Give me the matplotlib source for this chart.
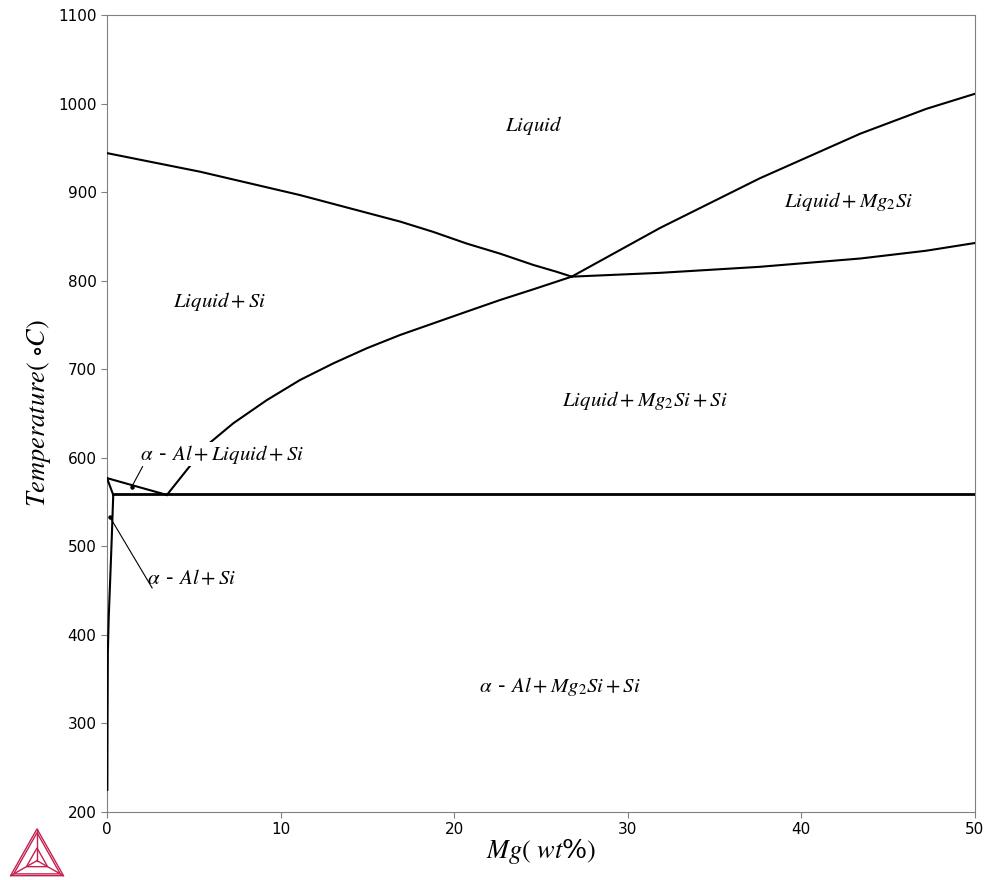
import numpy as np
import matplotlib.pyplot as plt
from matplotlib.patches import Polygon

plt.rcParams['mathtext.fontset'] = 'stix'

# phase boundaries (Mg wt%, T degC)
si_liq_x = [0, 5.36, 11.1, 16.9, 18.8, 20.7, 22.64, 24.56, 25.9, 26.77]
si_liq_t = [944, 923, 896.7, 866.6, 855, 842, 830.5, 817.7, 810, 804.5]

mg2si_liq_x = [26.77, 31.86, 37.6, 43.4, 47.2, 50]
mg2si_liq_t = [804.5, 859.5, 915.5, 966, 994, 1011]

l_mg2si_x = [26.77, 31.86, 37.6, 43.4, 47.2, 50]
l_mg2si_t = [804.5, 808.8, 815.6, 825, 833.8, 842.5]

valley_x = [3.45, 4.75, 5.93, 7.28, 9.2, 11.12, 13.04, 14.96, 16.88,
            18.8, 20.72, 22.64, 24.56, 26.77]
valley_t = [558, 590, 617, 639, 665, 687.8, 706.6, 723.6, 738.6,
            751.8, 765, 778.1, 790.2, 804.5]

al_liq_x = [0, 3.45]
al_liq_t = [577, 558]

al_sol_x = [0, 0.36]
al_sol_t = [577, 558]

solvus_x = [0.36, 0.27, 0.18, 0.1, 0.05, 0.03, 0.02]
solvus_t = [558, 507, 460, 420, 380, 300, 225]

eut_x = [0.36, 50]
eut_t = [558.5, 558.5]

labels = [
    (24.6, 975, r'$Liquid$'),
    (42.7, 889, r'$Liquid+Mg_2Si$'),
    (6.5, 776, r'$Liquid+Si$'),
    (31.0, 665, r'$Liquid+Mg_2Si+Si$'),
    (6.6, 604, r'$\alpha$ - $Al+Liquid+Si$'),
    (4.9, 464, r'$\alpha$ - $Al+Si$'),
    (26.1, 342, r'$\alpha$ - $Al+Mg_2Si+Si$'),
]

# leader lines: (x_text_end, t_text_end, x_tip, t_tip)
leaders = [
    (2.05, 590, 1.42, 567),
    (2.6, 453, 0.17, 533),
]

fig = plt.figure(figsize=(9.87, 8.8), dpi=100)
ax = fig.add_axes([0.1084, 0.0773, 0.8794, 0.9057])

lw = 1.5
for xs, ts in [(si_liq_x, si_liq_t), (mg2si_liq_x, mg2si_liq_t),
               (l_mg2si_x, l_mg2si_t), (valley_x, valley_t),
               (al_liq_x, al_liq_t), (al_sol_x, al_sol_t),
               (solvus_x, solvus_t)]:
    ax.plot(xs, ts, color='black', lw=lw, solid_joinstyle='round', zorder=3)
ax.plot(eut_x, eut_t, color='black', lw=2.0, zorder=3)

for x, t, s in labels:
    ax.text(x, t, s, fontsize=15, ha='center', va='center', zorder=4,
            bbox=dict(fc='white', ec='none', pad=0.5))

for x0, t0, x1, t1 in leaders:
    ax.plot([x0, x1], [t0, t1], color='black', lw=0.8, zorder=5)
    ax.plot([x1], [t1], 'o', color='black', ms=2.2, zorder=5)

ax.set_xlim(0, 50)
ax.set_ylim(200, 1100)
ax.set_xticks(np.arange(0, 51, 10))
ax.set_yticks(np.arange(200, 1101, 100))
ax.tick_params(direction='out', length=4, color='gray', labelsize=11)
for sp in ax.spines.values():
    sp.set_color('gray')
ax.set_xlabel(r'$Mg(\ wt$%$)$', fontsize=19, labelpad=0,
              family=['DejaVu Serif'], math_fontfamily='stix')
ax.set_ylabel(r'$Temperature(\ {\circ}C)$', fontsize=19, labelpad=4)

# logo
lax = fig.add_axes([0.009, 0.003, 0.057, 0.057])
lax.set_xlim(0, 1)
lax.set_ylim(0, 0.9)
lax.axis('off')
col = '#c4214f'
A, B, C = (0.03, 0.03), (0.97, 0.03), (0.5, 0.87)
Cn = (0.5, 0.3)
for s in [1.0, 0.88]:
    pts = [(Cn[0] + (p[0] - Cn[0]) * s, Cn[1] + (p[1] - Cn[1]) * s) for p in (A, B, C)]
    lax.add_patch(Polygon(pts, closed=True, fill=False, ec=col, lw=1.0))
for p in (A, B, C):
    lax.plot([p[0], Cn[0]], [p[1], Cn[1]], color=col, lw=1.0)
inner = [(Cn[0] + (p[0] - Cn[0]) * 0.4, Cn[1] + (p[1] - Cn[1]) * 0.4) for p in (A, B, C)]
lax.add_patch(Polygon(inner, closed=True, fill=False, ec=col, lw=1.0))

fig.savefig('out.png', dpi=100)
